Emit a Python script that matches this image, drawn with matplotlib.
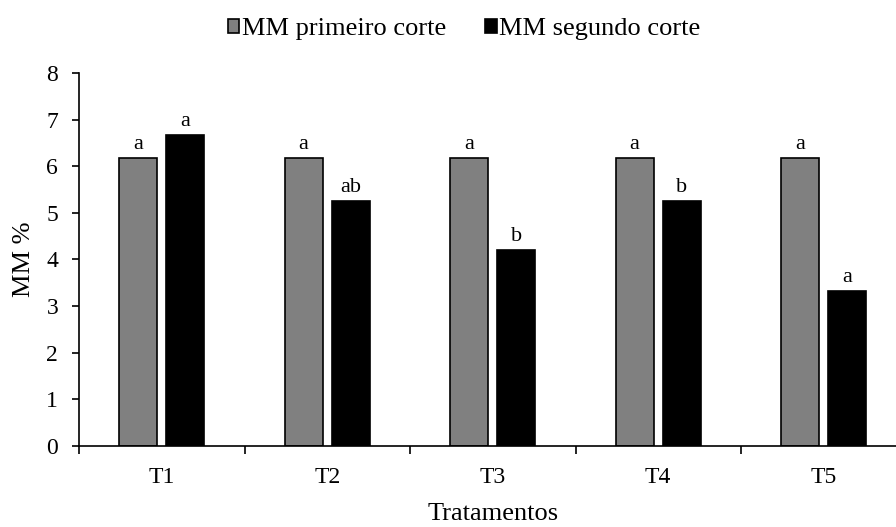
import matplotlib
matplotlib.use('Agg')
import matplotlib.pyplot as plt
import numpy as np

plt.rcParams['font.family'] = ['Liberation Serif', 'DejaVu Serif']

tratamentos = ['T1', 'T2', 'T3', 'T4', 'T5']
mm_primeiro = [6.17, 6.17, 6.17, 6.17, 6.17]
mm_segundo = [6.66, 5.25, 4.2, 5.25, 3.33]
letras_primeiro = ['a', 'a', 'a', 'a', 'a']
letras_segundo = ['a', 'ab', 'b', 'b', 'a']

fig = plt.figure(figsize=(8.96, 5.27), dpi=100)
ax = fig.add_axes([0.0882, 0.1537, 0.9235, 0.7078])

x = np.arange(len(tratamentos))
w = 0.23
b1 = ax.bar(x - 0.143, mm_primeiro, w, color='#808080', edgecolor='black',
            linewidth=1.2, label='MM primeiro corte')
b2 = ax.bar(x + 0.143, mm_segundo, w, color='black', edgecolor='black',
            linewidth=1.2, label='MM segundo corte')

for rect, t in zip(b1, letras_primeiro):
    ax.annotate(t, (rect.get_x() + rect.get_width() / 2, rect.get_height()),
                xytext=(0, 3), textcoords='offset points', ha='center', va='bottom', fontsize=16)
for rect, t in zip(b2, letras_segundo):
    ax.annotate(t, (rect.get_x() + rect.get_width() / 2, rect.get_height()),
                xytext=(0, 3), textcoords='offset points', ha='center', va='bottom', fontsize=16)

ax.set_xlim(-0.5, len(tratamentos) - 0.5)
ax.set_ylim(0, 8)
ax.set_yticks(range(0, 9))
ax.tick_params(axis='y', labelsize=17, direction='out', length=5, width=1.2, pad=10)

# major ticks on category borders, labels at centers
ax.set_xticks(np.arange(-0.5, len(tratamentos), 1.0))
ax.set_xticklabels([])
ax.set_xticks(x, minor=True)
ax.set_xticklabels(tratamentos, minor=True)
ax.tick_params(axis='x', which='major', direction='out', length=6, width=1.2)
ax.tick_params(axis='x', which='minor', length=0, labelsize=17, pad=15)

for s in ['top', 'right']:
    ax.spines[s].set_visible(False)
for s in ['left', 'bottom']:
    ax.spines[s].set_linewidth(1.2)

ax.set_ylabel('MM %', fontsize=19, labelpad=8)
ax.set_xlabel('Tratamentos', fontsize=19, labelpad=11)

fig.legend(handles=[b1, b2], loc='upper center', bbox_to_anchor=(0.518, 1.01), ncol=2,
           frameon=False, fontsize=19, handlelength=0.42, handleheight=0.45,
           handletextpad=0.1, columnspacing=1.5)

fig.savefig('out.png', dpi=100)
